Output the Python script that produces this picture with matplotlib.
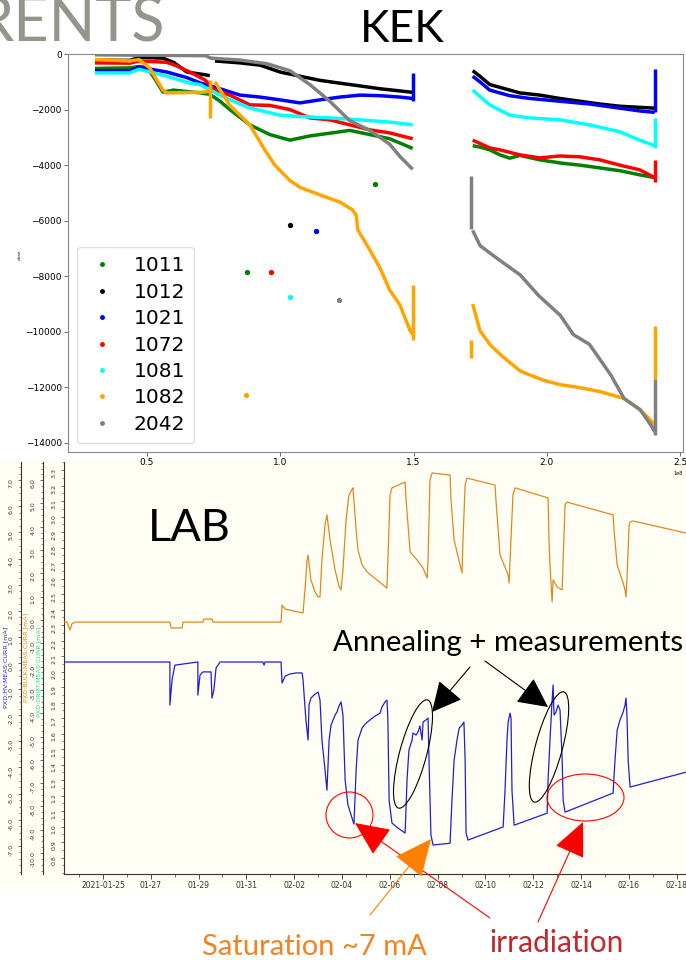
import numpy as np
import matplotlib
matplotlib.use("Agg")
import matplotlib.pyplot as plt
from matplotlib.patches import Ellipse, FancyArrowPatch, Rectangle
from matplotlib.lines import Line2D
from matplotlib.ticker import FixedLocator, MultipleLocator, FormatStrFormatter

plt.rcParams['font.family'] = ['DejaVu Sans']

# ------------------------------------------------------------------ KEK data (x in units of 1e8)
labels_kek = ["1011", "1012", "1021", "1072", "1081", "1082", "2042"]
colors_kek = ["green", "black", "blue", "red", "cyan", "orange", "gray"]

g_x1 = [0.305, 0.436, 0.47, 0.50, 0.53, 0.56, 0.60, 0.70, 0.736, 0.774, 0.811, 0.886, 0.961, 1.036, 1.111, 1.186, 1.261, 1.336, 1.411, 1.497]
g_y1 = [-520, -500, -450, -480, -900, -1370, -1300, -1400, -1450, -1700, -2000, -2550, -2900, -3100, -2950, -2850, -2750, -2900, -3050, -3400]
g_x2 = [1.722, 1.749, 1.786, 1.824, 1.861, 1.899, 1.974, 2.049, 2.124, 2.199, 2.274, 2.349, 2.405]
g_y2 = [-3300, -3350, -3450, -3630, -3750, -3650, -3810, -3920, -4000, -4100, -4200, -4350, -4450]

k_x1 = [0.305, 0.436, 0.47, 0.56, 0.60, 0.65, 0.72, 0.736]
k_y1 = [-220, -230, -120, -150, -300, -650, -750, -780]
k_x1b = [0.755, 0.85, 0.924, 1.0, 1.074, 1.15, 1.224, 1.30, 1.374, 1.45, 1.497]
k_y1b = [-250, -320, -400, -650, -800, -950, -1050, -1150, -1250, -1330, -1380]
k_x2 = [1.722, 1.749, 1.786, 1.824, 1.899, 1.974, 2.049, 2.124, 2.199, 2.274, 2.349, 2.405]
k_y2 = [-600, -800, -1100, -1200, -1400, -1480, -1600, -1700, -1800, -1880, -1920, -1950]

b_x1 = [0.305, 0.436, 0.47, 0.575, 0.65, 0.699, 0.774, 0.849, 0.924, 0.999, 1.074, 1.149, 1.224, 1.299, 1.374, 1.449, 1.497]
b_y1 = [-600, -600, -470, -650, -850, -1040, -1250, -1480, -1550, -1650, -1760, -1650, -1550, -1480, -1500, -1550, -1600]
b_x2 = [1.722, 1.749, 1.786, 1.861, 1.936, 2.049, 2.161, 2.274, 2.349, 2.405]
b_y2 = [-800, -1000, -1300, -1500, -1600, -1700, -1800, -1950, -2050, -2100]

r_x1 = [0.305, 0.436, 0.47, 0.575, 0.605, 0.661, 0.717, 0.755, 0.811, 0.886, 0.961, 1.036, 1.111, 1.186, 1.261, 1.336, 1.411, 1.497]
r_y1 = [-320, -330, -250, -300, -400, -650, -930, -1300, -1480, -1830, -1850, -2000, -2300, -2370, -2550, -2730, -2840, -3050]
r_x2 = [1.722, 1.786, 1.824, 1.899, 1.974, 2.049, 2.124, 2.199, 2.274, 2.349, 2.405]
r_y2 = [-3100, -3380, -3450, -3630, -3740, -3670, -3700, -3810, -4000, -4170, -4450]

c_x1 = [0.305, 0.436, 0.47, 0.575, 0.661, 0.699, 0.774, 0.849, 0.886, 0.999, 1.074, 1.186, 1.299, 1.411, 1.497]
c_y1 = [-680, -680, -550, -800, -1050, -1100, -1480, -1800, -1940, -2200, -2250, -2300, -2370, -2450, -2550]
c_x2 = [1.722, 1.786, 1.861, 1.936, 2.049, 2.161, 2.274, 2.349, 2.405]
c_y2 = [-1300, -1830, -2200, -2300, -2370, -2550, -2800, -3100, -3300]

o_x1 = [0.305, 0.436, 0.47, 0.51, 0.56, 0.575, 0.70, 0.736]
o_y1 = [-200, -250, -200, -500, -1300, -1400, -1380, -1350]
o_x1b = [0.755, 0.811, 0.886, 0.942, 0.980, 1.036, 1.074, 1.149, 1.224, 1.27, 1.285, 1.291, 1.336, 1.374, 1.411, 1.449, 1.486, 1.497]
o_y1b = [-1000, -1850, -2550, -3450, -4000, -4550, -4800, -5070, -5330, -5600, -5800, -6330, -7050, -7700, -8500, -9030, -9930, -10100]
o_x2 = [1.722, 1.749, 1.786, 1.824, 1.861, 1.899, 1.936, 1.99, 2.05, 2.12, 2.20, 2.236, 2.29, 2.35, 2.386, 2.405]
o_y2 = [-9000, -9950, -10450, -10800, -11100, -11400, -11550, -11750, -11900, -12000, -12150, -12250, -12400, -12800, -13150, -13350]

s_x1 = [0.305, 0.72, 0.74, 0.85, 0.95, 1.036, 1.111, 1.186, 1.261, 1.336, 1.411, 1.45, 1.497]
s_y1 = [-30, -60, -150, -220, -350, -600, -1100, -1700, -2400, -2750, -3250, -3700, -4150]
s_x2 = [1.722, 1.75, 1.82, 1.90, 1.97, 2.05, 2.10, 2.16, 2.24, 2.29, 2.35, 2.39, 2.405]
s_y2 = [-6350, -6900, -7400, -7950, -8700, -9400, -10100, -10450, -11550, -12400, -12800, -13350, -13600]

# vertical streaks: (series index, x, y_from, y_to)
kek_streaks = [(5, 0.736, -950, -2300), (2, 1.497, -700, -1700), (5, 1.497, -8300, -10300),
               (6, 1.715, -4400, -6300), (5, 1.715, -10300, -10950),
               (2, 2.405, -550, -2100), (4, 2.405, -2300, -3400), (3, 2.405, -3800, -4600),
               (5, 2.405, -9800, -11700), (6, 2.405, -11700, -13700)]
# isolated points: (series index, x, y)
kek_outliers = [(0, 0.875, -7850), (0, 1.355, -4680), (1, 1.036, -6150), (2, 1.134, -6370),
                (3, 0.966, -7850), (4, 1.036, -8750), (5, 0.870, -12270), (6, 1.22, -8850)]

kek_segments = [
    [(g_x1, g_y1), (g_x2, g_y2)],
    [(k_x1, k_y1), (k_x1b, k_y1b), (k_x2, k_y2)],
    [(b_x1, b_y1), (b_x2, b_y2)],
    [(r_x1, r_y1), (r_x2, r_y2)],
    [(c_x1, c_y1), (c_x2, c_y2)],
    [(o_x1, o_y1), (o_x1b, o_y1b), (o_x2, o_y2)],
    [(s_x1, s_y1), (s_x2, s_y2)],
]

# ------------------------------------------------------------------ LAB data (days since 2021-01-25, mA)
hv_points = [(-1.67, 0.04), (2.80, 0.04), (2.80, -1.61), (2.89, -0.65), (3.01, -0.08), (3.97, 0.04),
             (3.97, -1.23), (4.06, -0.46), (4.18, -0.34), (4.52, -0.34), (4.56, -1.34), (4.64, -1.03),
             (4.73, -0.19), (4.90, 0.04), (6.69, 0.04), (6.74, -0.08), (6.78, 0.04), (7.45, 0.04),
             (7.49, -0.77), (7.62, -0.50), (7.82, -0.42), (8.08, -0.38), (8.33, -0.38), (8.37, -0.65),
             (8.49, -2.18), (8.58, -2.95), (8.62, -1.61), (8.70, -1.34), (8.87, -1.19), (9.00, -1.11),
             (9.08, -1.42), (9.16, -2.95), (9.29, -4.10), (9.37, -4.87), (9.46, -2.95), (9.54, -2.38),
             (9.71, -1.99), (9.79, -1.88), (9.87, -1.65), (9.96, -1.49), (10.04, -1.99), (10.13, -4.48),
             (10.25, -5.44), (10.42, -5.94), (10.50, -6.17), (10.59, -4.10), (10.67, -2.95), (10.84, -2.49),
             (10.96, -2.34), (11.17, -2.18), (11.38, -2.03), (11.59, -1.92), (11.67, -1.69), (11.80, -1.49),
             (11.88, -1.42), (11.92, -2.18), (11.97, -5.25), (12.09, -6.13), (12.34, -6.32), (12.64, -6.51),
             (12.72, -4.48), (12.80, -3.33), (12.93, -2.95), (12.97, -2.68), (13.10, -2.76), (13.18, -2.64),
             (13.26, -2.41), (13.35, -2.95), (13.39, -2.26), (13.51, -2.18), (13.60, -2.11), (13.64, -3.72),
             (13.72, -6.59), (13.81, -6.97), (14.52, -6.90), (14.60, -5.25), (14.69, -3.72), (14.81, -2.95),
             (14.90, -2.49), (15.02, -2.38), (15.10, -2.26), (15.15, -3.72), (15.19, -6.51), (15.27, -6.78),
             (16.74, -6.28), (16.82, -4.87), (16.90, -2.95), (16.95, -2.26), (17.03, -1.92), (17.07, -2.11),
             (17.11, -4.87), (17.20, -6.21), (18.58, -5.75), (18.62, -4.48), (18.70, -2.95), (18.79, -1.42),
             (18.83, -0.84), (18.87, -1.99), (18.95, -1.88), (19.04, -1.61), (19.12, -1.80), (19.21, -3.72),
             (19.25, -5.25), (19.33, -5.71), (21.34, -4.98), (21.42, -3.72), (21.51, -2.57), (21.63, -2.18),
             (21.76, -1.88), (21.84, -1.61), (21.88, -1.34), (21.92, -1.99), (21.97, -3.72), (22.05, -4.75),
             (24.39, -4.18)]

bulk_points = [(-1.67, -0.09), (-1.51, -0.09), (-1.38, -0.43), (-1.30, -0.17), (-1.17, -0.09), (2.80, -0.09),
               (2.85, -0.34), (3.31, -0.34), (3.35, -0.09), (4.18, -0.09), (4.23, 0.04), (4.56, 0.04),
               (4.60, -0.09), (7.45, -0.09), (7.49, 0.64), (7.62, 0.47), (7.95, 0.39), (8.37, 0.30),
               (8.45, 1.29), (8.54, 2.58), (8.58, 2.79), (8.70, 1.72), (8.87, 1.20), (9.00, 0.99),
               (9.08, 0.99), (9.16, 2.58), (9.29, 4.08), (9.37, 4.51), (9.50, 3.43), (9.71, 2.15),
               (9.87, 1.46), (9.96, 1.29), (10.04, 2.15), (10.17, 4.29), (10.29, 5.36), (10.42, 5.62),
               (10.46, 5.67), (10.59, 3.86), (10.67, 3.00), (10.84, 2.36), (11.05, 2.06), (11.46, 1.72),
               (11.88, 1.37), (11.92, 2.58), (12.01, 5.36), (12.09, 5.67), (12.64, 5.92), (12.68, 5.15),
               (12.85, 2.92), (13.14, 2.58), (13.39, 2.23), (13.56, 1.80), (13.60, 2.58), (13.68, 6.01),
               (13.77, 6.31), (14.52, 6.22), (14.56, 5.15), (14.69, 3.43), (14.81, 2.92), (15.02, 2.02),
               (15.06, 3.43), (15.15, 5.79), (15.23, 6.09), (16.40, 5.79), (16.44, 5.15), (16.61, 2.79),
               (16.95, 1.93), (16.99, 1.59), (17.03, 2.58), (17.15, 5.36), (17.24, 5.67), (18.62, 5.24),
               (18.66, 3.43), (18.70, 2.36), (18.79, 0.77), (18.83, 1.72), (19.00, 1.42), (19.21, 1.29),
               (19.25, 2.58), (19.33, 4.94), (19.41, 5.06), (21.34, 4.51), (21.38, 3.86), (21.51, 2.36),
               (21.76, 1.59), (21.84, 1.29), (21.88, 0.99), (21.92, 1.72), (22.01, 4.08), (22.05, 4.21),
               (22.18, 4.25), (24.39, 3.73)]

date_tick_days = [0, 2, 4, 6, 8, 10, 12, 14, 16, 18, 20, 22, 24]
date_tick_labels = ["2021-01-25", "01-27", "01-29", "01-31", "02-02", "02-04", "02-06",
                    "02-08", "02-10", "02-12", "02-14", "02-16", "02-18"]

# ------------------------------------------------------------------ figure
W, H = 686, 960
fig = plt.figure(figsize=(W / 100, H / 100), dpi=100)
fig.patch.set_facecolor("white")


def rect(l, t, r, b):
    return [l / W, 1 - b / H, (r - l) / W, (b - t) / H]


def P(px, py):
    return (px / 100.0, (H - py) / 100.0)


TR = fig.dpi_scale_trans

# cream background of the LAB screenshot
fig.add_artist(Rectangle((0, 1 - 892 / H), 1, (892 - 461) / H, transform=fig.transFigure,
                         facecolor="#fffef4", edgecolor="none", zorder=-5))

# ------------------------------------------------------------------ KEK axes
ax = fig.add_axes(rect(68, 54, 683, 452))
for i, segs in enumerate(kek_segments):
    for xs, ys in segs:
        ax.plot(np.array(xs) * 1e8, ys, color=colors_kek[i], lw=2.5,
                solid_joinstyle="round", solid_capstyle="butt", zorder=2 + i * 0.1)
for i, xv, y0, y1 in kek_streaks:
    ax.vlines(xv * 1e8, y0, y1, color=colors_kek[i], lw=2.5, zorder=2 + i * 0.1)
for i, xv, yv in kek_outliers:
    ax.plot([xv * 1e8], [yv], "o", ms=2.8, color=colors_kek[i], zorder=3)

ax.set_xlim(0.2038e8, 2.511e8)
ax.set_ylim(-14324, 0)
ax.xaxis.set_major_locator(MultipleLocator(0.5e8))
ax.yaxis.set_major_locator(MultipleLocator(2000))
ax.tick_params(labelsize=6.5, length=3, width=0.6, color="#555555", pad=1.5)
for s in ax.spines.values():
    s.set_color("#888888")
    s.set_linewidth(0.8)
ax.set_ylabel("dose", fontsize=3.2)
ax.yaxis.set_label_coords(-46 / 615, 197 / 398)
ax.xaxis.get_offset_text().set_fontsize(3.5)

handles = [Line2D([], [], ls="", marker="o", ms=2.5, color=c) for c in colors_kek]
ax.legend(handles, labels_kek, loc="lower left", bbox_to_anchor=(9 / 615, 9 / 398),
          borderaxespad=0, fontsize=14.5, labelspacing=0.37, handlelength=1.6,
          handletextpad=0.75, borderpad=0.45, frameon=True, fancybox=True,
          framealpha=1.0, edgecolor="#e0e0e0")

# ------------------------------------------------------------------ LAB axes
lab_rect = rect(64, 462, 686, 874)
axd = fig.add_axes(lab_rect)
axd.set_facecolor("none")
axhv = fig.add_axes(lab_rect)
axbk = fig.add_axes(lab_rect)

hv_d, hv_v = zip(*hv_points)
bk_d, bk_v = zip(*bulk_points)
axhv.plot(hv_d, hv_v, color="#1f1fd2", lw=0.9)
axbk.plot(bk_d, bk_v, color="#e0891c", lw=0.9)

for a in (axd, axhv, axbk):
    a.set_xlim(-1.63, 24.39)

axhv.set_ylim(-8.08, 7.70)
axbk.set_ylim(-10.90, 6.78)
axd.set_ylim(0.694, 3.352)

for a, out in ((axhv, 31.0), (axbk, 15.1)):
    a.patch.set_visible(False)
    for k in ("top", "right", "bottom"):
        a.spines[k].set_visible(False)
    a.xaxis.set_visible(False)
    a.spines["left"].set_position(("outward", out))

for k in ("top", "right"):
    axd.spines[k].set_visible(False)

axhv.yaxis.set_major_locator(FixedLocator(np.arange(-7, 7.01, 1.0)))
axhv.yaxis.set_minor_locator(MultipleLocator(0.25))
axbk.yaxis.set_major_locator(FixedLocator(np.arange(-10, 6.01, 1.0)))
axbk.yaxis.set_minor_locator(MultipleLocator(0.25))
axd.yaxis.set_major_locator(FixedLocator(np.arange(0.8, 3.301, 0.1)))
axd.yaxis.set_minor_locator(MultipleLocator(0.05))
for a in (axd, axhv, axbk):
    a.yaxis.set_major_formatter(FormatStrFormatter("%.1f"))
    a.spines["left"].set_color("#333333")
    a.spines["left"].set_linewidth(0.8)
    a.tick_params(axis="y", which="major", labelsize=4.5, labelrotation=90, length=2.5,
                  width=0.5, colors="#333333", pad=3)
    a.tick_params(axis="y", which="minor", length=1.4, width=0.4, colors="#333333")

axd.spines["bottom"].set_color("#333333")
axd.spines["bottom"].set_linewidth(0.8)
axd.xaxis.set_major_locator(FixedLocator(date_tick_days))
axd.xaxis.set_minor_locator(MultipleLocator(1))
axd.set_xticklabels(date_tick_labels)
axd.tick_params(axis="x", which="major", labelsize=5.5, length=3.5, width=0.6,
                colors="#333333", pad=1.5)
axd.tick_params(axis="x", which="minor", length=2, width=0.5, colors="#333333")

fig.text(*P(6, 667), "PXD:HV:MEAS:CURR [mA]", transform=TR, rotation=90, color="#2a2ae0",
         fontsize=4.6, ha="center", va="center")
fig.text(*P(26, 657), "PXD:BULK:MEAS:CURR [mA]", transform=TR, rotation=90, color="#e0891c",
         fontsize=4.6, ha="center", va="center")
fig.text(*P(39, 672), "PXD:DRIFT:MEAS:CURR [mA]", transform=TR, rotation=90, color="#2fd895",
         fontsize=4.6, ha="center", va="center")

# ------------------------------------------------------------------ slide texts
fig.text(*P(165, 42), "RENTS", transform=TR, fontsize=44, family=["Lato", "DejaVu Sans"],
         color="#95958b", ha="right", va="baseline")
fig.text(*P(402, 42), "KEK", transform=TR, fontsize=32, family=["Lato", "DejaVu Sans"],
         color="black", ha="center", va="baseline")
fig.text(*P(148, 541), "LAB", transform=TR, fontsize=32.5, family=["Lato", "DejaVu Sans"],
         color="black", ha="left", va="baseline")
fig.text(*P(333, 651), "Annealing + measurements", transform=TR, fontsize=21.2,
         family=["Lato", "DejaVu Sans"], color="black", ha="left", va="baseline")
fig.text(*P(202, 955), "Saturation ~7 mA", transform=TR, fontsize=21,
         family=["Lato", "DejaVu Sans"], color="#f58220", ha="left", va="baseline")
fig.text(*P(489, 952), "irradiation", transform=TR, fontsize=21.5,
         family=["Lato", "DejaVu Sans"], color="#c0282d", ha="left", va="baseline")

# ------------------------------------------------------------------ annotation shapes
for (cx, cy), w, h, ang, col in [((413, 754), 112, 27, 75, "black"),
                                 ((549, 747), 114, 27, 75, "black"),
                                 ((349.5, 815), 47, 46, 0, "red"),
                                 ((585.5, 797.5), 77, 47, 0, "red")]:
    fig.add_artist(Ellipse(P(cx, cy), w / 100, h / 100, angle=ang, transform=TR,
                           fill=False, edgecolor=col, lw=0.8, zorder=5))

for tail, tip, col, hl, hw in [((470, 667), (432, 712), "black", 1.9, 0.95),
                               ((485, 661), (548, 707), "black", 1.9, 0.95),
                               ((490, 918), (355, 823), "red", 2.2, 1.0),
                               ((538, 922), (583, 822), "red", 2.2, 1.0),
                               ((370, 915), (431, 839), "#ff8000", 2.4, 1.1)]:
    fig.add_artist(FancyArrowPatch(P(*tail), P(*tip), transform=TR,
                                   arrowstyle=f"-|>,head_length={hl},head_width={hw}",
                                   mutation_scale=10, lw=0.8, color=col,
                                   shrinkA=0, shrinkB=0, zorder=6))

fig.savefig("out.png", dpi=100)
